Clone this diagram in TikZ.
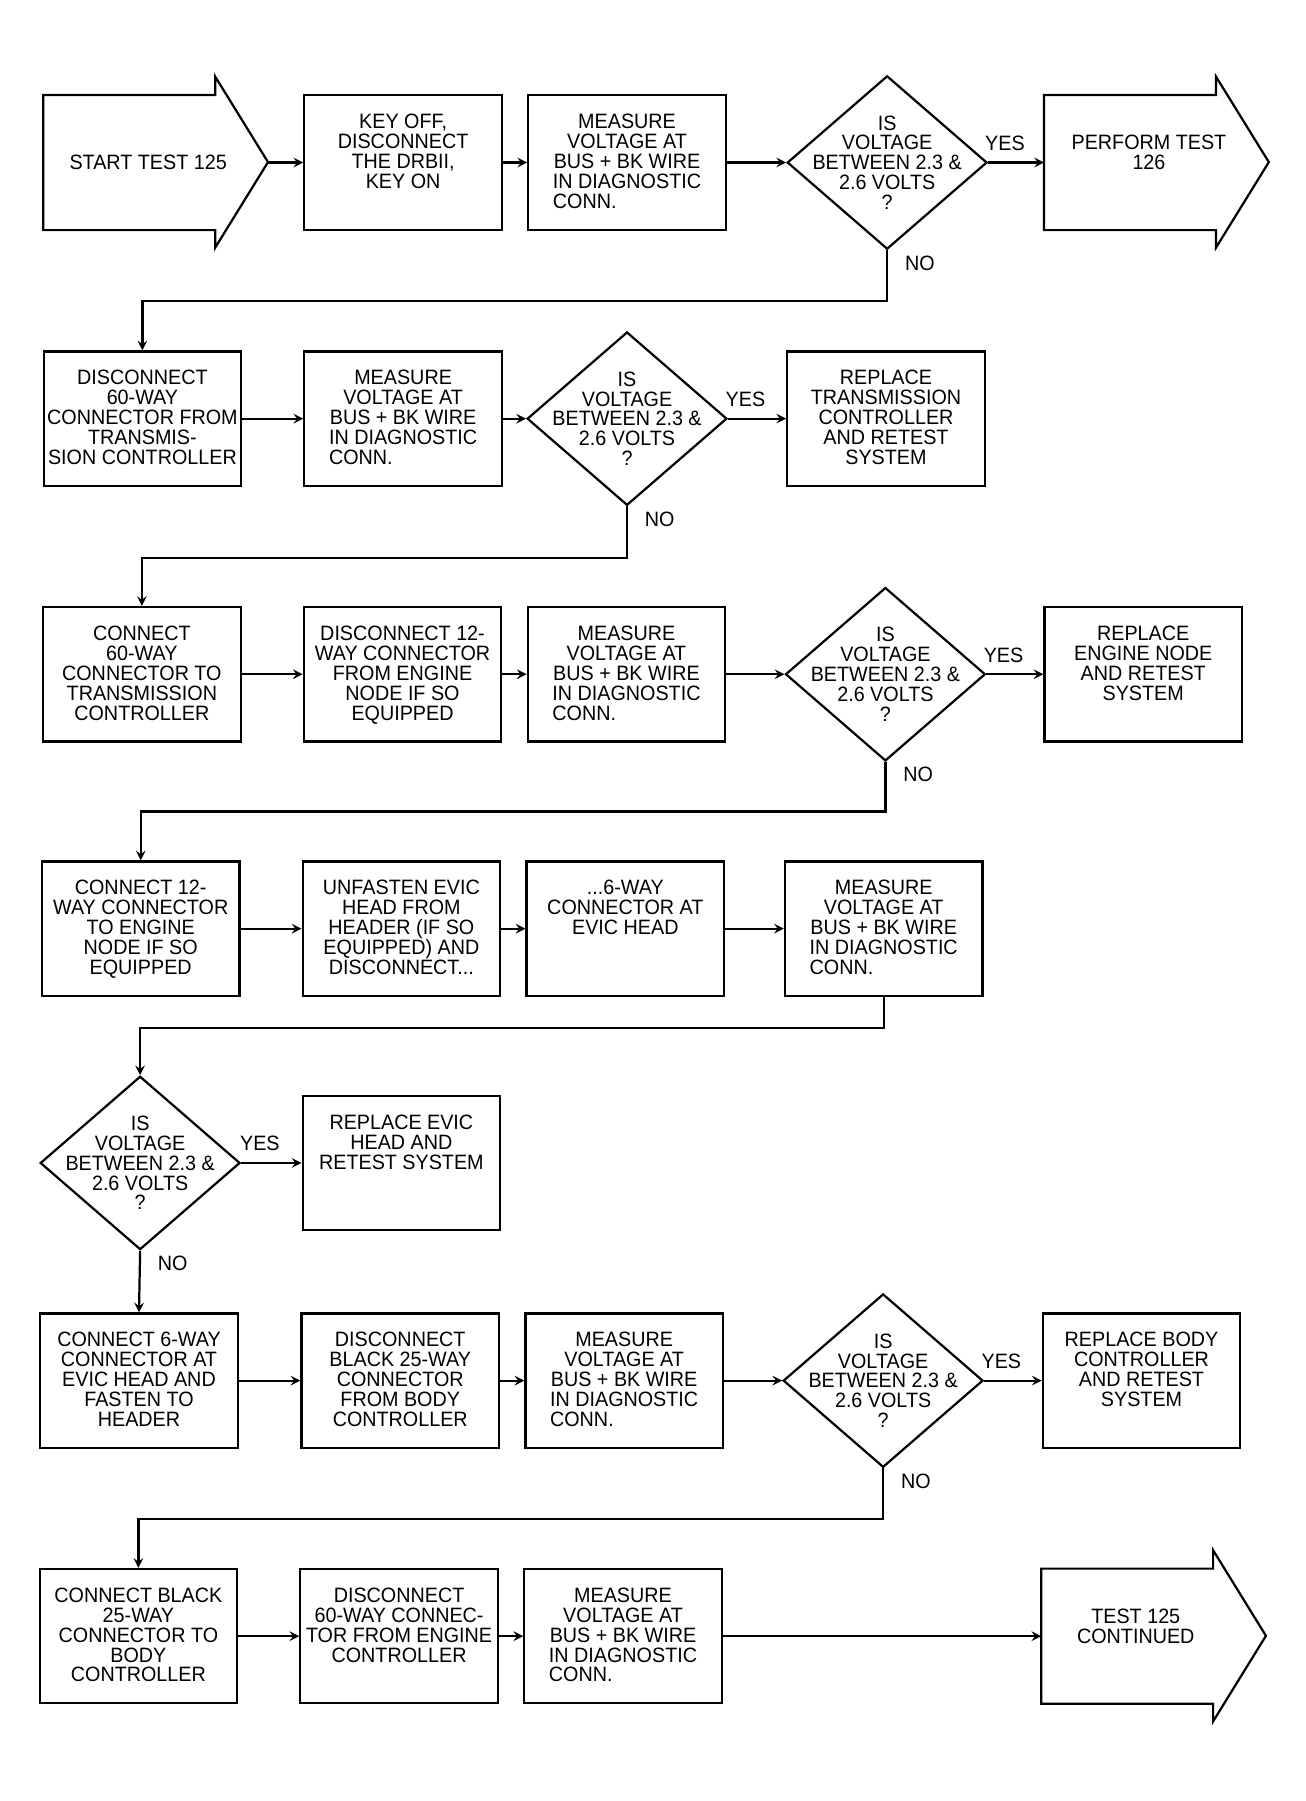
\documentclass[tikz,border=0pt]{standalone}
\usepackage{fontspec}
\usepackage{calc}
\setmainfont{Liberation Sans}[FakeStretch=0.95]
\usetikzlibrary{shapes.geometric, arrows}
\newcommand{\voltq}{IS\\VOLTAGE\\BETWEEN 2.3 \&\\2.6 VOLTS\\?}
\tikzstyle{process} = [rectangle, 
minimum width=3.44cm, 
minimum height=2.34cm, 
inner sep=0pt, 
draw=black, 
line width=1.1pt]
\tikzstyle{decision} = [diamond, 
minimum width=3.48cm, 
minimum height=3.02cm, 
inner sep=0pt, 
draw=black, 
line width=1.1pt, 
label={[align=center,inner sep=0pt]center:\voltq}]
\tikzstyle{bigarrow} = [rectangle, 
minimum width=2.98cm, 
minimum height=2.34cm, 
inner sep=0pt]
\tikzstyle{arrow} = [line width=1.1pt,->,>=stealth]
\newcommand{\steptext}[1]{\makebox[3.4cm]{\parbox[c][2.34cm][t]{4cm}{\centering\vspace*{0.33cm}#1}}}
\newcommand{\measuretext}{\steptext{MEASURE\\VOLTAGE AT\\BUS + BK WIRE\\IN DIAGNOSTIC\\\makebox[\widthof{IN DIAGNOSTIC}][l]{CONN.}}}
\newcommand{\arrowoutline}[1]{\draw[line width=1.1pt] (#1.north west) -- (#1.north east) -- ++(0,0.32cm) -- ++(0.92cm,-1.49cm) -- ++(-0.92cm,-1.49cm) -- (#1.south east) -- (#1.south west) -- cycle;}

\begin{document}
\lineskiplimit=-5pt
\begin{tikzpicture}[x=0.02cm, y=-0.02cm, node distance=3.9cm, font=\fontsize{10.3}{9.85}\selectfont]
\useasboundingbox (0,0) rectangle (1137,1568);

% row 1
\node (start) [bigarrow, label={[xshift=0.33cm]center:START TEST 125}] at (112.5,141.5) {};
\arrowoutline{start}
\path (start.east) ++(0.92cm,0) coordinate (starttip);
\node (r1b) [process, right of=start, xshift=0.87cm] {\steptext{KEY OFF,\\DISCONNECT\\THE DRBII,\\KEY ON}};
\node (r1c) [process, right of=r1b] {\measuretext};
\node (d1) [decision, right of=r1c, xshift=0.63cm] {};
\node (perform) [bigarrow, right of=d1, xshift=0.33cm, label={[anchor=north,align=center,inner sep=0pt,xshift=0.33cm,yshift=-0.69cm]north:PERFORM TEST\\126}] {};
\arrowoutline{perform}
\draw[arrow] (starttip) -- (r1b);
\draw[arrow] (r1b) -- (r1c);
\draw[arrow] (r1c) -- (d1);
\draw[arrow] (d1) -- node[above=2pt,pos=0.3]{YES} (perform);

% row 2
\node (r2a) [process] at (124,364.5) {\steptext{DISCONNECT\\60-WAY\\CONNECTOR FROM\\TRANSMIS-\\SION CONTROLLER}};
\node (r2b) [process, right of=r2a, xshift=0.64cm] {\measuretext};
\node (d2) [decision, right of=r2b] {};
\node (r2d) [process, right of=d2, xshift=0.61cm] {\steptext{REPLACE\\TRANSMISSION\\CONTROLLER\\AND RETEST\\SYSTEM}};
\draw[arrow] (d1.south) -- node[right=5pt,pos=0.25]{NO} ++(0,44) -| (r2a.north);
\draw[arrow] (r2a) -- (r2b);
\draw[arrow] (r2b) -- (d2);
\draw[arrow] (d2) -- node[above=2pt,pos=0.3]{YES} (r2d);

% row 3
\node (r3a) [process] at (123.5,587) {\steptext{CONNECT\\60-WAY\\CONNECTOR TO\\TRANSMISSION\\CONTROLLER}};
\node (r3b) [process, right of=r3a, xshift=0.64cm] {\steptext{DISCONNECT 12-\\WAY CONNECTOR\\FROM ENGINE\\NODE IF SO\\EQUIPPED}};
\node (r3c) [process, right of=r3b] {\measuretext};
\node (d3) [decision, right of=r3c, xshift=0.61cm] {};
\node (r3e) [process, right of=d3, xshift=0.59cm] {\steptext{REPLACE\\ENGINE NODE\\AND RETEST\\SYSTEM}};
\draw[arrow] (d2.south) -- node[right=5pt,pos=0.25]{NO} ++(0,45) -| (r3a.north);
\draw[arrow] (r3a) -- (r3b);
\draw[arrow] (r3b) -- (r3c);
\draw[arrow] (r3c) -- (d3);
\draw[arrow] (d3) -- node[above=2pt,pos=0.3]{YES} (r3e);

% row 4
\node (r4a) [process] at (122.5,808.5) {\steptext{CONNECT 12-\\WAY CONNECTOR\\TO ENGINE\\NODE IF SO\\EQUIPPED}};
\node (r4b) [process, right of=r4a, xshift=0.64cm] {\steptext{UNFASTEN EVIC\\HEAD FROM\\HEADER (IF SO\\EQUIPPED) AND\\DISCONNECT...}};
\node (r4c) [process, right of=r4b] {\steptext{...6-WAY\\CONNECTOR AT\\EVIC HEAD}};
\node (r4d) [process, right of=r4c, xshift=0.6cm] {\measuretext};
\draw[arrow] (d3.south) -- node[right=5pt,pos=0.25]{NO} ++(0,43) -| (r4a.north);
\draw[arrow] (r4a) -- (r4b);
\draw[arrow] (r4b) -- (r4c);
\draw[arrow] (r4c) -- (r4d);

% row 5
\node (d5) [decision] at (122,1012.5) {};
\node (r5b) [process, right of=d5, xshift=0.65cm] {\steptext{REPLACE EVIC\\HEAD AND\\RETEST SYSTEM}};
\draw[arrow] (r4d.south) -- ++(0,27) -| (d5.north);
\draw[arrow] (d5) -- node[above=2pt,pos=0.31]{YES} (r5b);

% row 6
\node (r6a) [process] at (121,1202) {\steptext{CONNECT 6-WAY\\CONNECTOR AT\\EVIC HEAD AND\\FASTEN TO\\HEADER}};
\node (r6b) [process, right of=r6a, xshift=0.65cm] {\steptext{DISCONNECT\\BLACK 25-WAY\\CONNECTOR\\FROM BODY\\CONTROLLER}};
\node (r6c) [process, right of=r6b] {\measuretext};
\node (d6) [decision, right of=r6c, xshift=0.61cm] {};
\node (r6e) [process, right of=d6, xshift=0.6cm] {\steptext{REPLACE BODY\\CONTROLLER\\AND RETEST\\SYSTEM}};
\draw[arrow] (d5.south) -- node[right=5pt,pos=0.2]{NO} (r6a.north);
\draw[arrow] (r6a) -- (r6b);
\draw[arrow] (r6b) -- (r6c);
\draw[arrow] (r6c) -- (d6);
\draw[arrow] (d6) -- node[above=2pt,pos=0.3]{YES} (r6e);

% row 7
\node (r7a) [process] at (120.5,1424.5) {\steptext{CONNECT BLACK\\25-WAY\\CONNECTOR TO\\BODY\\CONTROLLER}};
\node (r7b) [process, right of=r7a, xshift=0.64cm] {\steptext{DISCONNECT\\60-WAY CONNEC-\\TOR FROM ENGINE\\CONTROLLER}};
\node (r7c) [process, right of=r7b] {\measuretext};
\node (cont) [bigarrow, right of=r7c, xshift=4.88cm, label={[anchor=north,align=center,inner sep=0pt,xshift=0.15cm,yshift=-0.69cm]north:TEST 125\\CONTINUED}] {};
\arrowoutline{cont}
\draw[arrow] (d6.south) -- node[right=5pt,pos=0.25]{NO} ++(0,44) -| (r7a.north);
\draw[arrow] (r7a) -- (r7b);
\draw[arrow] (r7b) -- (r7c);
\draw[arrow] (r7c) -- (cont);

\end{tikzpicture}
\end{document}
